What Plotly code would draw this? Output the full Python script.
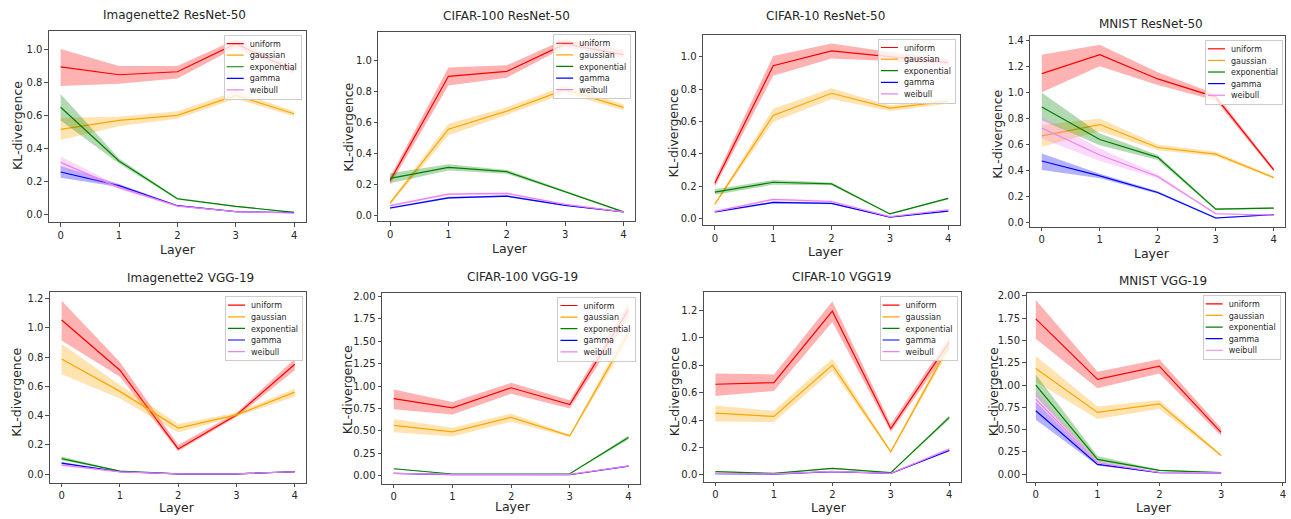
import plotly.graph_objects as go

W, H = 1291, 519

LAYERS = [0, 1, 2, 3, 4]
SERIES = ["uniform", "gaussian", "exponential", "gamma", "weibull"]
TITLES = ["Imagenette2 ResNet-50", "CIFAR-100 ResNet-50", "CIFAR-10 ResNet-50", "MNIST ResNet-50",
          "Imagenette2 VGG-19", "CIFAR-100 VGG-19", "CIFAR-10 VGG19", "MNIST VGG-19"]
X_LABEL = "Layer"
Y_LABEL = "KL-divergence"

# ---------------- data (mean, lower band, upper band) ----------------
imn_r50_mean = {"uniform": [0.892, 0.845, 0.863, 1.032, 0.87], "gaussian": [0.516, 0.570, 0.600, 0.72, 0.61],
                "exponential": [0.649, 0.325, 0.098, 0.052, 0.016], "gamma": [0.259, 0.177, 0.056, 0.020, 0.014],
                "weibull": [0.317, 0.165, 0.054, 0.020, 0.012]}
imn_r50_lo = {"uniform": [0.777, 0.791, 0.823, 1.008, 0.853], "gaussian": [0.452, 0.535, 0.580, 0.70, 0.595],
              "exponential": [0.570, 0.310, 0.092, 0.048, 0.013], "gamma": [0.225, 0.168, 0.052, 0.017, 0.012],
              "weibull": [0.281, 0.155, 0.050, 0.017, 0.010]}
imn_r50_hi = {"uniform": [1.000, 0.898, 0.898, 1.058, 0.888], "gaussian": [0.586, 0.592, 0.625, 0.745, 0.625],
              "exponential": [0.729, 0.340, 0.104, 0.056, 0.019], "gamma": [0.295, 0.186, 0.060, 0.023, 0.016],
              "weibull": [0.353, 0.175, 0.058, 0.023, 0.014]}

c100_r50_mean = {"uniform": [0.226, 0.900, 0.932, 1.11, 1.04], "gaussian": [0.081, 0.558, 0.675, 0.814, 0.699],
                 "exponential": [0.241, 0.312, 0.284, 0.156, 0.024], "gamma": [0.049, 0.115, 0.126, 0.066, 0.024],
                 "weibull": [0.064, 0.139, 0.143, 0.073, 0.024]}
c100_r50_lo = {"uniform": [0.200, 0.840, 0.891, 1.09, 1.02], "gaussian": [0.070, 0.519, 0.650, 0.790, 0.680],
               "exponential": [0.209, 0.291, 0.270, 0.150, 0.020], "gamma": [0.043, 0.108, 0.120, 0.062, 0.021],
               "weibull": [0.058, 0.132, 0.137, 0.069, 0.021]}
c100_r50_hi = {"uniform": [0.250, 0.957, 0.972, 1.14, 1.07], "gaussian": [0.092, 0.594, 0.700, 0.840, 0.720],
               "exponential": [0.274, 0.331, 0.295, 0.162, 0.028], "gamma": [0.055, 0.122, 0.132, 0.070, 0.027],
               "weibull": [0.070, 0.146, 0.149, 0.077, 0.027]}

c10_r50_mean = {"uniform": [0.219, 0.945, 1.037, 1.00, 0.965], "gaussian": [0.090, 0.638, 0.775, 0.683, 0.726],
                "exponential": [0.164, 0.225, 0.215, 0.029, 0.125], "gamma": [0.041, 0.100, 0.094, 0.010, 0.047],
                "weibull": [0.045, 0.119, 0.106, 0.012, 0.055]}
c10_r50_lo = {"uniform": [0.195, 0.883, 0.990, 0.975, 0.945], "gaussian": [0.083, 0.597, 0.740, 0.665, 0.710],
              "exponential": [0.147, 0.209, 0.207, 0.025, 0.120], "gamma": [0.037, 0.094, 0.089, 0.008, 0.043],
              "weibull": [0.041, 0.112, 0.100, 0.010, 0.051]}
c10_r50_hi = {"uniform": [0.245, 1.006, 1.082, 1.03, 0.985], "gaussian": [0.097, 0.679, 0.806, 0.700, 0.742],
              "exponential": [0.182, 0.239, 0.223, 0.033, 0.130], "gamma": [0.045, 0.106, 0.099, 0.012, 0.051],
              "weibull": [0.049, 0.126, 0.112, 0.014, 0.059]}

mnist_r50_mean = {"uniform": [1.147, 1.293, 1.106, 0.966, 0.404], "gaussian": [0.667, 0.754, 0.577, 0.526, 0.345],
                  "exponential": [0.889, 0.639, 0.501, 0.102, 0.110], "gamma": [0.473, 0.358, 0.230, 0.033, 0.059],
                  "weibull": [0.728, 0.519, 0.353, 0.066, 0.056]}
mnist_r50_lo = {"uniform": [1.004, 1.203, 1.060, 0.940, 0.390], "gaussian": [0.583, 0.703, 0.555, 0.510, 0.335],
                "exponential": [0.787, 0.595, 0.480, 0.095, 0.104], "gamma": [0.404, 0.340, 0.220, 0.028, 0.055],
                "weibull": [0.646, 0.473, 0.340, 0.061, 0.052]}
mnist_r50_hi = {"uniform": [1.293, 1.370, 1.157, 0.990, 0.420], "gaussian": [0.751, 0.800, 0.600, 0.545, 0.355],
                "exponential": [0.999, 0.685, 0.520, 0.108, 0.116], "gamma": [0.531, 0.375, 0.240, 0.038, 0.063],
                "weibull": [0.812, 0.570, 0.370, 0.071, 0.060]}

imn_vgg_mean = {"uniform": [1.055, 0.711, 0.172, 0.405, 0.752], "gaussian": [0.788, 0.566, 0.315, 0.405, 0.561],
                "exponential": [0.106, 0.020, 0.001, 0.002, 0.016], "gamma": [0.075, 0.016, 0.002, 0.002, 0.016],
                "weibull": [0.061, 0.015, 0.002, 0.002, 0.016]}
imn_vgg_lo = {"uniform": [0.915, 0.666, 0.156, 0.390, 0.711], "gaussian": [0.684, 0.518, 0.285, 0.395, 0.530],
              "exponential": [0.095, 0.017, 0.0, 0.0, 0.014], "gamma": [0.068, 0.014, 0.0, 0.0, 0.014],
              "weibull": [0.055, 0.013, 0.0, 0.0, 0.014]}
imn_vgg_hi = {"uniform": [1.186, 0.767, 0.200, 0.420, 0.790], "gaussian": [0.892, 0.609, 0.342, 0.420, 0.586],
              "exponential": [0.120, 0.023, 0.003, 0.004, 0.018], "gamma": [0.082, 0.018, 0.004, 0.004, 0.018],
              "weibull": [0.067, 0.017, 0.004, 0.004, 0.018]}

c100_vgg_mean = {"uniform": [0.858, 0.755, 0.980, 0.792, 1.853], "gaussian": [0.560, 0.486, 0.648, 0.442, 1.595],
                 "exponential": [0.074, 0.015, 0.015, 0.018, 0.424], "gamma": [0.022, 0.007, 0.007, 0.007, 0.103],
                 "weibull": [0.022, 0.010, 0.010, 0.010, 0.105]}
c100_vgg_lo = {"uniform": [0.740, 0.681, 0.913, 0.748, 1.760], "gaussian": [0.483, 0.435, 0.600, 0.425, 1.521],
               "exponential": [0.068, 0.012, 0.012, 0.015, 0.400], "gamma": [0.019, 0.005, 0.005, 0.005, 0.097],
               "weibull": [0.019, 0.008, 0.008, 0.008, 0.099]}
c100_vgg_hi = {"uniform": [0.961, 0.821, 1.035, 0.840, 1.926], "gaussian": [0.630, 0.534, 0.692, 0.455, 1.668],
               "exponential": [0.080, 0.018, 0.018, 0.021, 0.445], "gamma": [0.025, 0.009, 0.009, 0.009, 0.109],
               "weibull": [0.025, 0.012, 0.012, 0.012, 0.111]}

c10_vgg_mean = {"uniform": [0.662, 0.674, 1.195, 0.338, 0.970], "gaussian": [0.451, 0.427, 0.802, 0.169, 0.946],
                "exponential": [0.024, 0.012, 0.048, 0.017, 0.420], "gamma": [0.010, 0.007, 0.024, 0.012, 0.179],
                "weibull": [0.012, 0.008, 0.026, 0.012, 0.190]}
c10_vgg_lo = {"uniform": [0.577, 0.613, 1.116, 0.314, 0.922], "gaussian": [0.391, 0.386, 0.758, 0.160, 0.910],
              "exponential": [0.020, 0.010, 0.043, 0.015, 0.405], "gamma": [0.008, 0.005, 0.021, 0.010, 0.172],
              "weibull": [0.010, 0.006, 0.023, 0.010, 0.182]}
c10_vgg_hi = {"uniform": [0.741, 0.734, 1.268, 0.372, 1.007], "gaussian": [0.507, 0.468, 0.850, 0.180, 0.980],
              "exponential": [0.028, 0.014, 0.053, 0.019, 0.435], "gamma": [0.012, 0.009, 0.027, 0.014, 0.186],
              "weibull": [0.014, 0.010, 0.029, 0.014, 0.198]}

mnist_vgg_mean = {"uniform": [1.741, 1.063, 1.211, 0.470], "gaussian": [1.185, 0.693, 0.789, 0.211],
                  "exponential": [1.000, 0.167, 0.044, 0.019], "gamma": [0.711, 0.111, 0.019, 0.015],
                  "weibull": [0.841, 0.130, 0.022, 0.017]}
mnist_vgg_lo = {"uniform": [1.519, 0.963, 1.130, 0.433], "gaussian": [1.037, 0.619, 0.730, 0.200],
                "exponential": [0.870, 0.137, 0.038, 0.016], "gamma": [0.611, 0.100, 0.016, 0.012],
                "weibull": [0.741, 0.120, 0.019, 0.014]}
mnist_vgg_hi = {"uniform": [1.952, 1.148, 1.289, 0.519], "gaussian": [1.326, 0.759, 0.833, 0.225],
                "exponential": [1.119, 0.204, 0.050, 0.022], "gamma": [0.815, 0.120, 0.022, 0.018],
                "weibull": [0.944, 0.140, 0.025, 0.020]}

PANEL_DATA = [
    (imn_r50_mean, imn_r50_lo, imn_r50_hi),
    (c100_r50_mean, c100_r50_lo, c100_r50_hi),
    (c10_r50_mean, c10_r50_lo, c10_r50_hi),
    (mnist_r50_mean, mnist_r50_lo, mnist_r50_hi),
    (imn_vgg_mean, imn_vgg_lo, imn_vgg_hi),
    (c100_vgg_mean, c100_vgg_lo, c100_vgg_hi),
    (c10_vgg_mean, c10_vgg_lo, c10_vgg_hi),
    (mnist_vgg_mean, mnist_vgg_lo, mnist_vgg_hi),
]

# ---------------- styles / layout ----------------
COLORS = {"uniform": (255, 0, 0), "gaussian": (255, 165, 0), "exponential": (0, 128, 0),
          "gamma": (0, 0, 255), "weibull": (238, 130, 238)}

# axes boxes in pixels: left, right, top, bottom
BOXES = [(49, 306, 28, 221), (378.7, 635.7, 29.3, 220), (703.7, 960.7, 32.3, 224), (1031, 1286.3, 33.3, 225.7),
         (50, 306.7, 291.7, 483.3), (382.3, 640.7, 292.7, 484.3), (704.3, 961.7, 291.7, 482.7),
         (1027.3, 1285.7, 292.3, 482.7)]
XRANGES = [[-0.2, 4.2]] * 7 + [[-0.15, 4.03]]
YRANGES = [[-0.044, 1.11], [-0.037, 1.186], [-0.041, 1.135], [-0.036, 1.437],
           [-0.058, 1.243], [-0.092, 2.036], [-0.051, 1.332], [-0.086, 2.03]]
YTICKS = [[0, 0.2, 0.4, 0.6, 0.8, 1.0], [0, 0.2, 0.4, 0.6, 0.8, 1.0], [0, 0.2, 0.4, 0.6, 0.8, 1.0],
          [0, 0.2, 0.4, 0.6, 0.8, 1.0, 1.2, 1.4], [0, 0.2, 0.4, 0.6, 0.8, 1.0, 1.2],
          [0, 0.25, 0.5, 0.75, 1.0, 1.25, 1.5, 1.75, 2.0], [0, 0.2, 0.4, 0.6, 0.8, 1.0, 1.2],
          [0, 0.25, 0.5, 0.75, 1.0, 1.25, 1.5, 1.75, 2.0]]
YFMT = [".1f", ".1f", ".1f", ".1f", ".1f", ".2f", ".1f", ".2f"]
TITLE_POS = [(175, 12), (507, 13), (826.5, 13), (1151.7, 21), (190.7, 277), (523, 276), (842, 276), (1163.7, 280)]
XLAB_POS = [(178, 248), (510, 247), (826.7, 250), (1153, 252), (176.7, 508), (513.3, 507), (830, 508), (1155, 508)]
YLAB_POS = [(17, 123), (348, 125), (675, 131), (998, 132.5), (17, 391.7), (348, 389.5), (675, 391.7), (995, 392)]
LEG_POS = [(302, 32), (631.7, 31.7), (956.7, 36), (1284, 37.3), (303.3, 295.7), (636, 296), (958.3, 295.7),
           (1281.7, 294.3)]

FONT = "DejaVu Sans"
AXCOL = "#4d4d4d"
TXTCOL = "#262626"

fig = go.Figure()
layout = dict(width=W, height=H, autosize=False, margin=dict(l=0, r=0, t=0, b=0),
              paper_bgcolor="white", plot_bgcolor="white", font=dict(family=FONT, color=TXTCOL),
              annotations=[])

for i, (mean, lo, hi) in enumerate(PANEL_DATA):
    n = i + 1
    xa = "x" if n == 1 else f"x{n}"
    ya = "y" if n == 1 else f"y{n}"
    leg = "legend" if n == 1 else f"legend{n}"
    for s in SERIES:
        r, g, b = COLORS[s]
        xs = LAYERS[:len(mean[s])]
        fig.add_trace(go.Scatter(x=xs, y=mean[s], mode="lines", name=s, xaxis=xa, yaxis=ya, legend=leg,
                                 line=dict(color=f"rgb({r},{g},{b})", width=1.2), hoverinfo="skip"))
        fig.add_trace(go.Scatter(x=xs, y=hi[s], mode="lines", xaxis=xa, yaxis=ya, showlegend=False,
                                 line=dict(width=0, color=f"rgba({r},{g},{b},0)"), hoverinfo="skip"))
        fig.add_trace(go.Scatter(x=xs, y=lo[s], mode="lines", xaxis=xa, yaxis=ya, showlegend=False,
                                 line=dict(width=0, color=f"rgba({r},{g},{b},0)"), fill="tonexty",
                                 fillcolor=f"rgba({r},{g},{b},0.3)", hoverinfo="skip"))

    left, right, top, bottom = BOXES[i]
    axis_common = dict(showline=True, mirror=True, linecolor=AXCOL, linewidth=1, ticks="outside",
                       ticklen=3.5, tickwidth=1, tickcolor=AXCOL, showgrid=False, zeroline=False,
                       tickfont=dict(family=FONT, size=10, color=TXTCOL))
    layout["xaxis" if n == 1 else f"xaxis{n}"] = dict(
        domain=[left / W, right / W], anchor=ya, range=XRANGES[i], tickmode="array",
        tickvals=LAYERS, ticktext=[str(v) for v in LAYERS], **axis_common)
    layout["yaxis" if n == 1 else f"yaxis{n}"] = dict(
        domain=[1 - bottom / H, 1 - top / H], anchor=xa, range=YRANGES[i], tickmode="array",
        tickvals=YTICKS[i], tickformat=YFMT[i], **axis_common)

    lx, ly = LEG_POS[i]
    layout[leg] = dict(x=lx / W, y=1 - ly / H, xanchor="right", yanchor="top", xref="paper", yref="paper",
                       bgcolor="rgba(255,255,255,0.8)", bordercolor="#cccccc", borderwidth=1,
                       traceorder="normal",
                       font=dict(family=FONT, size=8, color=TXTCOL), itemwidth=30, tracegroupgap=0)

    tx, ty = TITLE_POS[i]
    layout["annotations"].append(dict(text=TITLES[i], x=tx / W, y=1 - ty / H, xref="paper", yref="paper",
                                      xanchor="center", yanchor="middle", showarrow=False,
                                      font=dict(family=FONT, size=12, color=TXTCOL)))
    bx, by = XLAB_POS[i]
    layout["annotations"].append(dict(text=X_LABEL, x=bx / W, y=1 - by / H, xref="paper", yref="paper",
                                      xanchor="center", yanchor="middle", showarrow=False,
                                      font=dict(family=FONT, size=12.5, color=TXTCOL)))
    cx, cy = YLAB_POS[i]
    layout["annotations"].append(dict(text=Y_LABEL, x=cx / W, y=1 - cy / H, xref="paper", yref="paper",
                                      xanchor="center", yanchor="middle", showarrow=False, textangle=-90,
                                      font=dict(family=FONT, size=12.5, color=TXTCOL)))

fig.update_layout(**layout)

# Page tweaks: remove the default body margin, and compact the legend rows
# (matplotlib-style legends are tighter than plotly's 19px minimum row height).
POST = r"""
document.body.style.margin = '0';
document.body.style.overflow = 'hidden';
var gd = document.getElementById('{plot_id}');
function compactLegends() {
  try {
    var SP = 11.6, PAD = 3.0, TX = 26, RPAD = 4;
    gd.querySelectorAll('g.infolayer > g').forEach(function (L) {
      var cls = (L.getAttribute('class') || '').split(' ')[0];
      if (!/^legend\d*$/.test(cls)) return;
      var bg = L.querySelector('rect.bg');
      var tr = L.querySelectorAll('g.traces');
      if (!bg || !tr.length) return;
      if (L.getAttribute('data-right') === null) {
        var m0 = /translate\(\s*([-\d.e]+)[\s,]+([-\d.e]+)\s*\)/.exec(L.getAttribute('transform') || '');
        if (!m0) return;
        L.setAttribute('data-right', parseFloat(m0[1]) + parseFloat(bg.getAttribute('width')));
        L.setAttribute('data-top', parseFloat(m0[2]));
      }
      var right = parseFloat(L.getAttribute('data-right'));
      var top = parseFloat(L.getAttribute('data-top'));
      var maxw = 0;
      tr.forEach(function (t, k) {
        t.setAttribute('transform', 'translate(0,' + (PAD + SP * (k + 0.5)) + ')');
        t.querySelectorAll('text').forEach(function (txt) {
          txt.setAttribute('x', TX);
          txt.querySelectorAll('tspan').forEach(function (s) { if (s.hasAttribute('x')) s.setAttribute('x', TX); });
          var w = 0;
          try { w = txt.getComputedTextLength(); } catch (e2) { w = 0; }
          if (!w) { w = (txt.textContent || '').length * 4.6; }
          maxw = Math.max(maxw, w);
        });
        t.querySelectorAll('path').forEach(function (p) {
          var d = p.getAttribute('d') || '';
          if (/^M\s*[\d.]+\s*,\s*0\s*h\s*[\d.]+$/.test(d)) { p.setAttribute('d', 'M3,0h17'); }
        });
      });
      var newW = TX + maxw + RPAD;
      var newH = 2 * PAD + SP * tr.length;
      bg.setAttribute('width', newW);
      bg.setAttribute('height', newH);
      L.setAttribute('transform', 'translate(' + (right - newW) + ',' + top + ')');
    });
  } catch (e) { console.log(e); }
}
compactLegends();
[30, 100, 250, 500, 900, 1500].forEach(function (ms) { setTimeout(compactLegends, ms); });
if (gd && gd.on) { gd.on('plotly_afterplot', function () { setTimeout(compactLegends, 0); }); }
"""

fig.write_html("out.html", post_script=POST, config={"displayModeBar": False})
